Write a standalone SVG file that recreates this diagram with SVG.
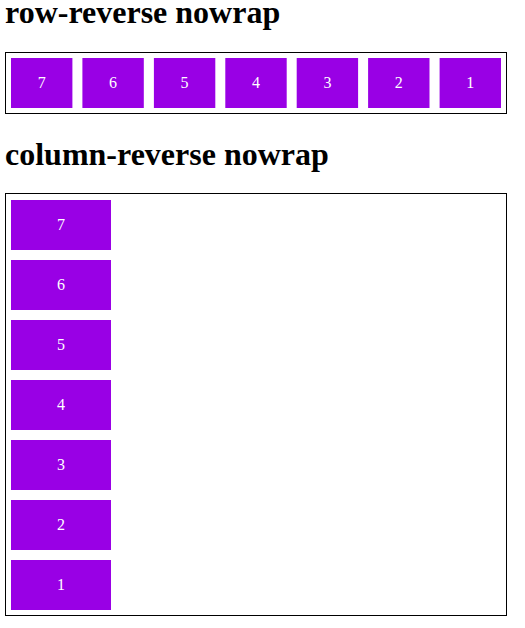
<svg xmlns="http://www.w3.org/2000/svg" width="525" height="628" viewBox="0 0 525 628">
<style>
.h{font-family:"Liberation Serif","Times New Roman",serif;font-weight:bold;font-size:32px;fill:#000}
.box{fill:none;stroke:#000;stroke-width:1}
.item rect{fill:#9900e5}
.item text{font-family:"Liberation Serif","Times New Roman",serif;font-size:16px;fill:#fff;text-anchor:middle}
</style>
<rect width="525" height="628" fill="#fff"/>
<text class="h" x="5" y="23">row-reverse nowrap</text>
<rect class="box" x="5.5" y="52.5" width="501" height="61"/>
<g id="r7" class="item"><rect x="11" y="58" width="61.4" height="50"/><text x="41.7" y="88">7</text></g>
<g id="r6" class="item"><rect x="82.4" y="58" width="61.4" height="50"/><text x="113.1" y="88">6</text></g>
<g id="r5" class="item"><rect x="153.9" y="58" width="61.4" height="50"/><text x="184.6" y="88">5</text></g>
<g id="r4" class="item"><rect x="225.3" y="58" width="61.4" height="50"/><text x="256" y="88">4</text></g>
<g id="r3" class="item"><rect x="296.7" y="58" width="61.4" height="50"/><text x="327.4" y="88">3</text></g>
<g id="r2" class="item"><rect x="368.1" y="58" width="61.4" height="50"/><text x="398.8" y="88">2</text></g>
<g id="r1" class="item"><rect x="439.6" y="58" width="61.4" height="50"/><text x="470.3" y="88">1</text></g>
<text class="h" x="5" y="165">column-reverse nowrap</text>
<rect class="box" x="5.5" y="193.5" width="501" height="422"/>
<g id="c7" class="item"><rect x="11" y="200" width="100" height="50"/><text x="61" y="230">7</text></g>
<g id="c6" class="item"><rect x="11" y="260" width="100" height="50"/><text x="61" y="290">6</text></g>
<g id="c5" class="item"><rect x="11" y="320" width="100" height="50"/><text x="61" y="350">5</text></g>
<g id="c4" class="item"><rect x="11" y="380" width="100" height="50"/><text x="61" y="410">4</text></g>
<g id="c3" class="item"><rect x="11" y="440" width="100" height="50"/><text x="61" y="470">3</text></g>
<g id="c2" class="item"><rect x="11" y="500" width="100" height="50"/><text x="61" y="530">2</text></g>
<g id="c1" class="item"><rect x="11" y="560" width="100" height="50"/><text x="61" y="590">1</text></g>
<g id="connectors"/>
</svg>
